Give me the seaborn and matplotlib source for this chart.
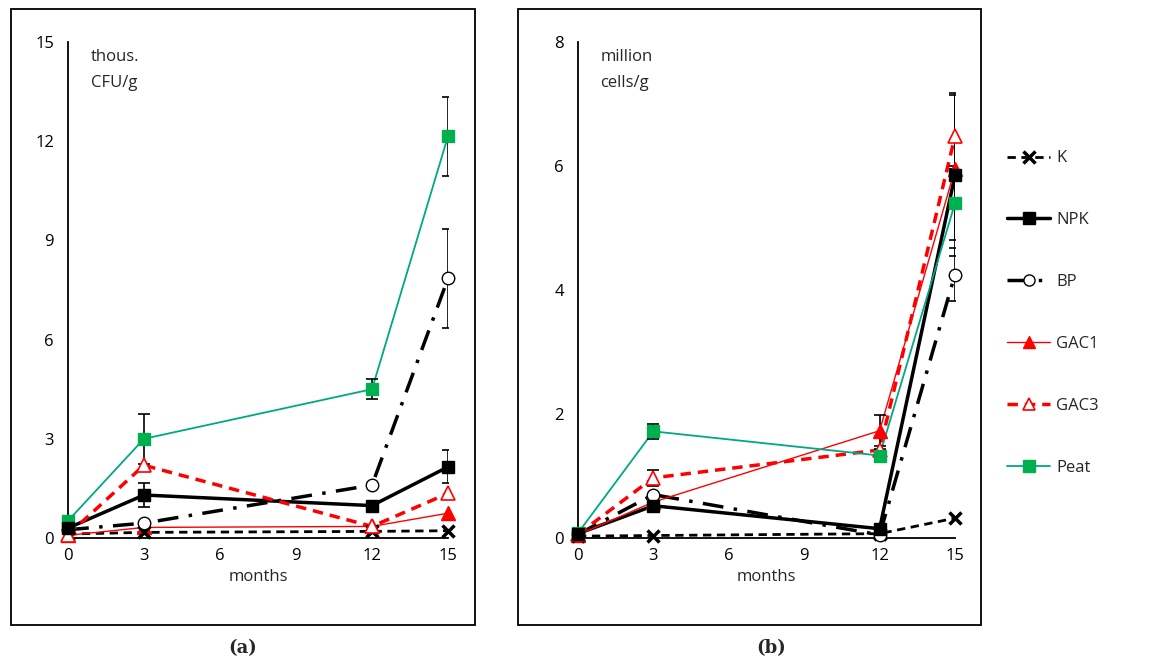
import numpy as np
import pandas as pd
import seaborn as sns
from matplotlib import pyplot as plt
from matplotlib.lines import Line2D
from matplotlib.patches import Rectangle

months = [0, 3, 12, 15]
series = ['K', 'NPK', 'BP', 'GAC1', 'GAC3', 'Peat']

# panel (a): thous. CFU/g
a_K = [0.12, 0.17, 0.2, 0.22]
a_NPK = [0.3, 1.3, 0.98, 2.15]
a_BP = [0.25, 0.45, 1.6, 7.85]
a_GAC1 = [0.08, 0.32, 0.35, 0.75]
a_GAC3 = [0.1, 2.2, 0.35, 1.35]
a_Peat = [0.52, 3.0, 4.5, 12.15]
a_NPK_err = [0, 0.35, 0, 0.5]
a_BP_err = [0, 0, 0, 1.5]
a_Peat_err = [0, 0.75, 0.3, 1.2]

# panel (b): million cells/g
b_K = [0.03, 0.04, 0.07, 0.32]
b_NPK = [0.07, 0.52, 0.15, 5.85]
b_BP = [0.06, 0.7, 0.05, 4.25]
b_GAC1 = [0.05, 0.58, 1.73, 5.95]
b_GAC3 = [0.06, 0.97, 1.42, 6.48]
b_Peat = [0.08, 1.72, 1.33, 5.4]
b_NPK_err = [0, 0, 0, 1.3]
b_BP_err = [0, 0, 0, 0.43]
b_GAC1_err = [0, 0, 0.25, 0]
b_GAC3_err = [0, 0.13, 0, 0.7]
b_Peat_err = [0, 0.12, 0.1, 0.6]

GREEN = '#00B050'
TEAL = '#00A884'
RED = '#FF0000'

styles = {
    'K': dict(color='black', linestyle=(0, (3, 2)), lw=2, marker='x', ms=9, mew=2.5, mfc='black', z=4),
    'NPK': dict(color='black', linestyle='-', lw=2.5, marker='s', ms=9, mew=1, mfc='black', z=5),
    'BP': dict(color='black', linestyle=(0, (6, 3, 1, 3)), lw=2.5, marker='o', ms=9, mew=1, mfc='white', z=4),
    'GAC1': dict(color=RED, linestyle='-', lw=1.0, marker='^', ms=10, mew=1, mfc=RED, z=3.5),
    'GAC3': dict(color=RED, linestyle=(0, (3, 2)), lw=2.5, marker='^', ms=10, mew=1.2, mfc='white', z=4),
    'Peat': dict(color=TEAL, linestyle='-', lw=1.3, marker='s', ms=9, mew=1, mfc=GREEN, mec=GREEN, z=4),
}

sns.set_style('white')
plt.rcParams['font.family'] = ['Open Sans', 'DejaVu Sans']

fig = plt.figure(figsize=(11.56, 6.61), dpi=100)
ax_a = fig.add_axes([68 / 1156, 1 - 538 / 661, 380 / 1156, 496 / 661])
ax_b = fig.add_axes([578 / 1156, 1 - 538 / 661, 377 / 1156, 496 / 661])


def draw_panel(ax, values, errs, ymax, ystep, unit_text):
    for name in series:
        st = styles[name]
        df = pd.DataFrame({'months': months, 'v': values[name]})
        sns.lineplot(data=df, x='months', y='v', ax=ax, color=st['color'], lw=st['lw'],
                     zorder=2, legend=False)
        ax.lines[-1].set_linestyle(st['linestyle'])
    for name, err in errs.items():
        ax.errorbar(months, values[name], yerr=err, fmt='none', ecolor='black',
                    elinewidth=1.2, capsize=4, capthick=1.2, zorder=3)
    for name in series:
        st = styles[name]
        ax.plot(months, values[name], linestyle='none', marker=st['marker'], ms=st['ms'],
                mew=st['mew'], mfc=st['mfc'], mec=st.get('mec', st['color']),
                color=st['color'], zorder=st['z'], clip_on=False)
    ax.set_xlim(0, 15)
    ax.set_ylim(0, ymax)
    ax.set_xticks(range(0, 16, 3))
    ax.set_yticks(np.arange(0, ymax + 0.1, ystep))
    ax.tick_params(direction='in', length=5, width=1.2, labelsize=12, pad=10, colors='black')
    ax.tick_params(axis='x', pad=7)
    sns.despine(ax=ax)
    for s in ['left', 'bottom']:
        ax.spines[s].set_linewidth(1.3)
        ax.spines[s].set_color('black')
    ax.set_xlabel('months', fontsize=12, labelpad=4)
    ax.set_ylabel('')
    ax.text(0.06, 0.985, unit_text, transform=ax.transAxes, fontsize=12, va='top',
            ha='left', linespacing=1.8)
    ax.set_facecolor('none')


vals_a = dict(K=a_K, NPK=a_NPK, BP=a_BP, GAC1=a_GAC1, GAC3=a_GAC3, Peat=a_Peat)
errs_a = dict(NPK=a_NPK_err, BP=a_BP_err, Peat=a_Peat_err)
vals_b = dict(K=b_K, NPK=b_NPK, BP=b_BP, GAC1=b_GAC1, GAC3=b_GAC3, Peat=b_Peat)
errs_b = dict(NPK=b_NPK_err, BP=b_BP_err, GAC1=b_GAC1_err, GAC3=b_GAC3_err, Peat=b_Peat_err)

draw_panel(ax_a, vals_a, errs_a, 15, 3, 'thous.\nCFU/g')
draw_panel(ax_b, vals_b, errs_b, 8, 2, 'million\ncells/g')

# panel frames
for x0, x1 in [(11, 475), (518, 981)]:
    fig.patches.append(Rectangle((x0 / 1156, 1 - 625 / 661), (x1 - x0) / 1156, 616 / 661,
                                 transform=fig.transFigure, fill=False, ec='black', lw=1.3))

fig.text(243 / 1156, 1 - 648 / 661, '(a)', ha='center', va='center', fontsize=13,
         fontweight='bold', family='DejaVu Serif')
fig.text(771 / 1156, 1 - 648 / 661, '(b)', ha='center', va='center', fontsize=13,
         fontweight='bold', family='DejaVu Serif')

handles = []
for name in series:
    st = styles[name]
    handles.append(Line2D([], [], color=st['color'], linestyle=st['linestyle'], lw=st['lw'],
                          marker=st['marker'], ms=st['ms'] - 1, mew=st['mew'], mfc=st['mfc'],
                          mec=st.get('mec', st['color'])))
fig.legend(handles, series, loc='center left', bbox_to_anchor=(992 / 1156, 1 - 313 / 661),
           frameon=False, fontsize=12, labelspacing=2.75, handlelength=2.6, handletextpad=0.35)

fig.savefig('out.png', dpi=100)
